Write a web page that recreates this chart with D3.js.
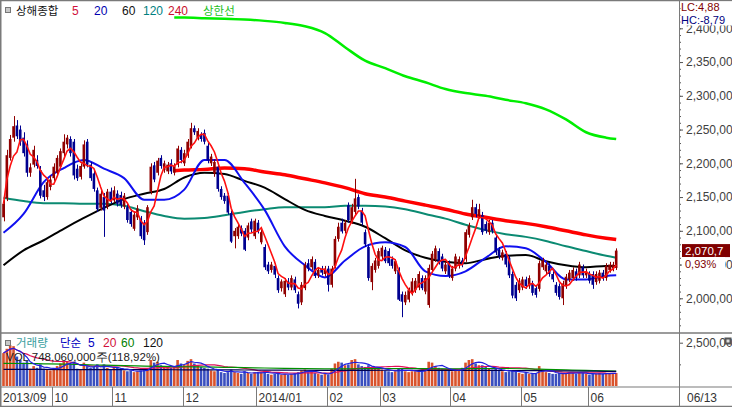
<!DOCTYPE html>
<html lang="ko">
<head>
<meta charset="UTF-8" />
<title>상해종합</title>
<script src="https://d3js.org/d3.v7.min.js"></script>
<style>
  body { margin: 0; background: #fff; }
  svg { display: block; }
  text { font-family: "Liberation Sans", sans-serif; font-size: 12px; }
  .kr { font-family: "Noto Sans CJK KR", sans-serif; font-size: 11.5px; }
  .axis text { fill: #404040; font-family: "Liberation Sans", sans-serif; font-size: 12px; }
  .axis line { stroke: #555; }
</style>
</head>
<body>
<script>
// ---- data: daily candles, 2013/09 .. 2014/06/13 (index = trading day) ----
const openVals = [
  2120,2148,2208,2238,2256,2250,2238,2228,2186,2198,2205,2190,2160,2150,2165,
  2178,2186,2195,2215,2228,2236,2232,2192,2180,2195,2232,2198,2185,2160,2134,2150,2136,2158,
  2145,2155,2153,2136,2135,2128,2103,2120,2118,2112,2098,2158,2197,2186,2208,2190,2188,2200,2186,2198,2220,
  2200,2212,2225,2252,2238,2242,2245,2226,2200,2185,2195,2162,2152,2152,2126,2092,2092,2104,2100,2090,2114,2092,
  2112,2083,2076,2050,2042,2048,2030,2015,2006,2025,2016,2028,2006,1994,2015,2052,2046,2054,2034,2044,2036,
  2044,2020,2048,2088,2112,2100,2138,2114,2128,2150,2130,2098,2076,2024,2042,2048,
  2062,2072,2070,2058,2040,2042,2006,1994,1998,2008,2012,2016,2030,2010,1990,2042,2058,2070,2062,2040,2052,
  2030,2044,2048,2056,2058,2094,2120,2135,2122,2123,2110,2098,2112,2090,2072,2060,2066,2060,2036,2020,2012,
  2016,2028,2018,2022,2015,2014,2046,2040,2048,2036,2020,2018,2000,2018,2028,2030,2040,2034,2046,2034,
  2036,2036,2024,2026,2038,2030,2042,2044,2045
];
const highVals = [
  2146,2220,2242,2270,2264,2256,2246,2234,2200,2226,2212,2196,2168,2176,2182,
  2200,2212,2222,2243,2242,2240,2236,2198,2200,2234,2236,2202,2190,2164,2160,2156,2162,2164,
  2166,2160,2158,2156,2140,2132,2128,2138,2122,2116,2138,2200,2202,2208,2212,2204,2202,2206,2200,2226,2224,
  2220,2236,2260,2256,2252,2246,2250,2230,2214,2206,2198,2166,2156,2156,2130,2104,2110,2108,2104,2112,2118,2118,
  2116,2102,2080,2054,2054,2052,2034,2028,2030,2030,2034,2032,2010,2024,2054,2058,2062,2058,2046,2048,2048,
  2048,2048,2092,2112,2118,2116,2142,2140,2177,2154,2134,2102,2080,2052,2060,2074,
  2078,2076,2074,2062,2058,2046,2010,2010,2016,2030,2030,2040,2034,2034,2050,2070,2078,2074,2066,2054,2056,
  2048,2066,2062,2060,2102,2112,2146,2140,2140,2128,2114,2116,2116,2094,2076,2072,2070,2064,2040,2024,2030,
  2032,2032,2034,2026,2018,2056,2060,2054,2052,2040,2024,2022,2026,2036,2042,2046,2044,2054,2050,2044,
  2040,2040,2040,2042,2042,2052,2054,2054,2074
];
const lowVals = [
  2114,2144,2204,2232,2236,2226,2210,2180,2180,2194,2192,2148,2144,2146,2160,
  2174,2182,2192,2210,2222,2210,2176,2174,2176,2192,2194,2174,2158,2128,2130,2091,2132,2140,
  2142,2136,2134,2132,2112,2106,2100,2116,2088,2079,2094,2154,2172,2182,2192,2186,2184,2184,2182,2194,2200,
  2196,2208,2222,2242,2234,2232,2228,2200,2196,2180,2158,2146,2140,2124,2082,2074,2088,2092,2070,2086,2098,2088,
  2096,2080,2042,2036,2038,2030,2008,2010,2002,2012,2012,2008,1985,1990,2012,2040,2042,2030,2030,2034,2032,
  2010,2016,2044,2084,2096,2096,2112,2110,2124,2132,2108,2076,2026,2012,2038,2044,
  2058,2052,2048,2044,2036,1996,1972,1990,1994,2004,2008,2012,2012,2006,1986,2038,2054,2050,2040,2036,2030,
  2026,2040,2044,2046,2054,2090,2116,2120,2118,2094,2096,2094,2096,2064,2058,2056,2046,2030,2000,1996,2008,
  2012,2014,2014,2004,2001,2010,2042,2036,2032,2024,2004,1998,1990,2014,2024,2026,2026,2030,2030,2030,
  2022,2014,2020,2022,2026,2026,2038,2040,2042
];
const closeVals = [
  2140,2212,2236,2255,2240,2232,2215,2186,2194,2220,2196,2152,2150,2172,2176,
  2195,2208,2218,2232,2238,2215,2182,2178,2196,2228,2198,2178,2162,2132,2155,2130,2158,2145,
  2160,2140,2138,2152,2116,2110,2124,2133,2092,2086,2135,2195,2176,2204,2196,2200,2198,2188,2196,2222,2205,
  2215,2232,2252,2246,2248,2236,2232,2204,2210,2202,2162,2150,2144,2127,2084,2100,2106,2096,2072,2108,2102,2115,
  2100,2098,2046,2040,2050,2035,2012,2025,2026,2016,2030,2012,1992,2020,2050,2044,2058,2033,2042,2038,2044,
  2020,2044,2088,2106,2099,2112,2116,2135,2148,2136,2112,2080,2030,2048,2056,2070,
  2075,2055,2052,2048,2055,1998,1995,2005,2012,2025,2026,2036,2015,2030,2045,2066,2074,2054,2044,2050,2034,
  2044,2062,2058,2050,2098,2108,2135,2125,2132,2098,2100,2112,2100,2068,2062,2068,2050,2034,2004,2000,2026,
  2028,2018,2030,2008,2005,2052,2056,2050,2036,2028,2008,2002,2022,2032,2038,2042,2030,2050,2034,2040,
  2026,2020,2036,2038,2030,2048,2050,2050,2070.7
];
// volume, million shares
const volumeVals = [
  1900,2150,2350,2300,1700,1500,1350,1450,1000,1150,1050,1250,1000,950,900,
  1000,1150,1300,1450,1400,1250,1400,1000,950,1350,1150,1050,1100,1250,1000,1250,1050,950,
  1100,1050,950,900,850,900,800,850,900,950,1000,1500,1350,1400,1200,1150,1100,1050,1100,1500,1300,
  1250,1450,1550,1300,1200,1100,1050,1000,900,850,950,800,750,800,950,800,750,700,850,750,700,800,
  750,800,850,700,650,700,750,650,700,650,700,750,800,900,950,800,850,750,700,650,700,
  650,1000,1300,1400,1350,1200,1250,1500,1550,1250,1150,1100,1200,1050,1000,1050,
  950,900,850,800,850,1000,1000,850,800,850,850,900,850,900,1400,1350,1150,1050,1000,950,900,
  850,900,950,1050,1350,1500,1550,1300,1200,1200,1100,1000,950,1000,900,850,800,850,900,850,750,
  700,750,700,750,700,1150,950,800,750,700,700,750,700,750,800,750,700,800,750,700,
  650,700,700,750,700,700,750,750,748
];

// moving-average lines at sample days
const sampleIdx = [0,6,12,18,24,30,36,42,48,54,60,66,72,78,84,90,96,102,108,114,120,126,132,138,144,150,156,162,168,174,180,183];
const ma20Vals = [2097,2125,2172,2193,2205,2192,2178,2146,2146,2161,2205,2205,2171,2131,2077,2049,2031,2056,2077,2083,2076,2040,2033,2040,2060,2077,2074,2054,2028,2028,2033,2034];
const ma60Vals = [2049,2071,2086,2103,2119,2134,2147,2155,2162,2179,2186,2184,2174,2164,2147,2131,2122,2115,2106,2089,2071,2060,2054,2052,2058,2063,2064,2055,2049,2046,2048,2048];
const ma120Vals = [2149,2144,2141,2141,2140,2140,2137,2129,2122,2118,2119,2123,2128,2132,2135,2135,2135,2137,2137,2136,2132,2125,2118,2109,2101,2095,2091,2085,2077,2070,2063,2060];
const longIdx = [51,54,60,66,72,78,84,90,96,102,108,114,120,126,132,138,144,150,156,162,168,174,180,183];
const ma240Vals = [2189,2190,2191,2193,2192,2187,2183,2177,2171,2164,2155,2150,2144,2138,2132,2125,2120,2115,2111,2106,2100,2094,2089,2087];
const upperVals = [2416,2416,2415,2414,2413,2411,2408,2403,2393,2372,2352,2341,2329,2320,2310,2304,2300,2294,2289,2280,2265,2246,2238,2236];
const volMa60Vals = [1310,1300,1280,1260,1230,1200,1180,1150,1130,1110,1100,1080,1060,1040,1020,1000,990,990,1000,1010,1010,1000,990,1000,1010,1010,990,960,930,900,870,860];
const volMa120Vals = [960,960,955,950,950,945,945,940,940,935,930,930,925,920,915,910,905,905,905,910,910,905,900,900,900,895,890,880,870,860,850,845];

const monthStart = [0,15,33,54,76,97,113,134,155,175];
const monthLabels = ["2013/09","10","11","12","2014/01","02","03","04","05","06"];
const priceTicks = d3.range(2000, 2401, 50);

// ---- layout ----
const W = 732, H = 407;
const axisX = 679, mainBottom = 333, volBottom = 387;

const svg = d3.select("body").append("svg").attr("width", W).attr("height", H);
svg.append("rect").attr("width", W).attr("height", H).attr("fill", "#fff");

const x = d3.scaleLinear().domain([0, 183]).range([3.5, 616.2]);
const y = d3.scaleLinear().domain([2000, 2400]).range([298.3, 28.3]);
const yv = d3.scaleLinear().domain([0, 2500]).range([386, 342.7]);

const defs = svg.append("defs");
defs.append("clipPath").attr("id", "clipMain")
  .append("rect").attr("x", 1).attr("y", 1).attr("width", axisX - 1).attr("height", mainBottom - 1);
defs.append("clipPath").attr("id", "clipVol")
  .append("rect").attr("x", 1).attr("y", mainBottom + 1).attr("width", axisX - 1).attr("height", volBottom - mainBottom - 1);
// the 2,400 label sits under the HC text, the 2,050 label under the percentage
defs.append("clipPath").attr("id", "clip2400")
  .append("rect").attr("x", 0).attr("y", 25 - y(2400)).attr("width", 60).attr("height", 20);
defs.append("clipPath").attr("id", "clip2050")
  .append("rect").attr("x", 725 - axisX).attr("y", -10).attr("width", 20).attr("height", 20);

const main = svg.append("g").attr("clip-path", "url(#clipMain)");
const vol = svg.append("g").attr("clip-path", "url(#clipVol)");

const days = closeVals.map((c, i) => ({ i, o: openVals[i], h: highVals[i], l: lowVals[i], c, v: volumeVals[i] }));
const rollMean = (vals, n) => vals.map((v, i) => d3.mean(vals.slice(Math.max(0, i - n + 1), i + 1)));
const ma5 = rollMean(closeVals, 5);

const UP = "#900000", DOWN = "#000090";

// long moving averages (behind candles)
const sampled = (idx, vals) => idx.map((i, k) => ({ i, v: vals[k] }));
const lineP = d3.line().x(d => x(d.i)).y(d => y(d.v)).curve(d3.curveMonotoneX);

[[sampleIdx, ma120Vals, "#0b8a72", 2],
 [sampleIdx, ma60Vals, "#000000", 2],
 [longIdx, ma240Vals, "#ff0000", 3.5],
 [longIdx, upperVals, "#00ee00", 2.5],
 [sampleIdx, ma20Vals, "#1010f0", 2]].forEach(([idx, vals, col, w]) => {
  main.append("path").datum(sampled(idx, vals))
    .attr("fill", "none").attr("stroke", col).attr("stroke-width", w).attr("d", lineP);
});

// candles
const cg = main.append("g");
cg.selectAll("line.wick").data(days).enter().append("line")
  .attr("class", "wick")
  .attr("x1", d => Math.round(x(d.i)) + 0.5).attr("x2", d => Math.round(x(d.i)) + 0.5)
  .attr("y1", d => y(d.h)).attr("y2", d => y(d.l))
  .attr("stroke", d => d.c >= d.o ? UP : DOWN).attr("stroke-width", 1);
cg.selectAll("rect.body").data(days).enter().append("rect")
  .attr("class", "body")
  .attr("x", d => x(d.i) - 1.3).attr("width", 2.6)
  .attr("y", d => y(Math.max(d.o, d.c)))
  .attr("height", d => Math.max(1, Math.abs(y(d.o) - y(d.c))))
  .attr("fill", d => d.c >= d.o ? UP : DOWN);

// 5-day average on top
main.append("path").datum(ma5.map((v, i) => ({ i, v })))
  .attr("fill", "none").attr("stroke", "#ff1010").attr("stroke-width", 1.6)
  .attr("d", d3.line().x(d => x(d.i)).y(d => y(d.v)));

// volume bars
vol.selectAll("rect.vbar").data(days).enter().append("rect")
  .attr("class", "vbar")
  .attr("x", d => x(d.i) - 1.3).attr("width", 2.6)
  .attr("y", d => yv(d.v)).attr("height", d => yv(0) - yv(d.v))
  .attr("fill", d => d.c >= d.o ? "#d9532c" : "#3a4fbf");

const lineV = d3.line().x(d => x(d.i)).y(d => yv(d.v));
[[rollMean(volumeVals, 20).map((v, i) => ({ i, v })), "#e0105a", d3.curveLinear],
 [sampled(sampleIdx, volMa60Vals), "#009000", d3.curveMonotoneX],
 [sampled(sampleIdx, volMa120Vals), "#000050", d3.curveMonotoneX],
 [rollMean(volumeVals, 5).map((v, i) => ({ i, v })), "#2020e0", d3.curveLinear]].forEach(([data, col, curve]) => {
  vol.append("path").datum(data).attr("fill", "none").attr("stroke", col).attr("stroke-width", 1.2)
    .attr("d", lineV.curve(curve));
});

// ---- axes ----
const axMinor = svg.append("g").attr("class", "axis").attr("transform", `translate(${axisX},0)`)
  .call(d3.axisRight(y).tickValues(d3.range(1960, 2440, 10)).tickSize(2).tickFormat(""));
const axMajor = svg.append("g").attr("class", "axis").attr("transform", `translate(${axisX},0)`)
  .call(d3.axisRight(y).tickValues(priceTicks).tickSize(4).tickPadding(3)
    .tickFormat(d => d3.format(",")(d) + ",00"));
axMajor.selectAll(".tick text")
  .attr("clip-path", d => d === 2400 ? "url(#clip2400)" : d === 2050 ? "url(#clip2050)" : null);
const axVol = svg.append("g").attr("class", "axis").attr("transform", `translate(${axisX},0)`)
  .call(d3.axisRight(yv).tickValues([2500]).tickSize(4).tickPadding(3).tickFormat(d => d3.format(",")(d) + ",00"));
const axVolMinor = svg.append("g").attr("class", "axis").attr("transform", `translate(${axisX},0)`)
  .call(d3.axisRight(yv).tickValues([1250]).tickSize(2).tickFormat(""));
[axMinor, axMajor, axVol, axVolMinor].forEach(g => g.select(".domain").remove());

// frame and panel separators
const frame = svg.append("g").attr("stroke", "#7a7a7a").attr("fill", "none");
frame.append("line").attr("x1", 0).attr("x2", W).attr("y1", mainBottom).attr("y2", mainBottom).attr("stroke-width", 1.5);
frame.append("line").attr("x1", 0).attr("x2", W).attr("y1", volBottom).attr("y2", volBottom).attr("stroke-width", 1.2);
frame.append("line").attr("x1", axisX + 0.5).attr("x2", axisX + 0.5).attr("y1", 0).attr("y2", H);
frame.append("rect").attr("x", 0.75).attr("y", 0.5).attr("width", W).attr("height", H - 1).attr("stroke-width", 1.5);

// date axis
const dates = svg.append("g");
monthStart.forEach((m, k) => {
  const lx = Math.round(x(m) - 1.7) + 0.5;
  if (k > 0) dates.append("line").attr("x1", lx).attr("x2", lx).attr("y1", volBottom).attr("y2", H)
    .attr("stroke", "#7a7a7a");
  dates.append("text").attr("x", k === 0 ? 3 : lx + 2).attr("y", 402).attr("fill", "#333").text(monthLabels[k]);
});
dates.append("text").attr("x", axisX + 8).attr("y", 402).attr("fill", "#333").text("06/13");

// last price tag
const last = days[days.length - 1];
const ty = y(last.c);
svg.append("rect").attr("x", 682).attr("y", ty - 6.5).attr("width", 48).attr("height", 13).attr("fill", "#800000");
svg.append("text").attr("x", 685).attr("y", ty + 4).attr("fill", "#fff").style("font-size", "11.5px").text("2,070,7");
svg.append("rect").attr("x", 682).attr("y", ty + 6.5).attr("width", 43).attr("height", 12.5).attr("fill", "#fff");
svg.append("text").attr("x", 685).attr("y", ty + 17.5).attr("fill", "#800000").style("font-size", "11px").text("0,93%");

// LC / HC box
svg.append("rect").attr("x", 680.5).attr("y", 1.5).attr("width", 52).attr("height", 23.5).attr("fill", "#fff");
svg.append("text").attr("x", 681).attr("y", 11).attr("fill", "#800000").style("font-size", "11px").text("LC:4,88");
svg.append("text").attr("x", 681).attr("y", 23.5).attr("fill", "#000080").style("font-size", "11px").text("HC:-8,79");

// small icon by the volume scale
svg.append("rect").attr("x", 724.5).attr("y", 337.5).attr("width", 7).attr("height", 7).attr("fill", "#555");
svg.append("rect").attr("x", 726.5).attr("y", 339.5).attr("width", 3).attr("height", 3).attr("fill", "#ddd");

// ---- legends ----
function legendIcon(yy) {
  svg.append("rect").attr("x", 5.5).attr("y", yy).attr("width", 5).attr("height", 5)
    .attr("fill", "#c8c8c8").attr("stroke", "#777");
}
legendIcon(7.5);
const topLegend = [
  ["상해종합", 16, "#111", true], ["5", 72, "#d0103a", false], ["20", 94, "#0000b0", false],
  ["60", 122, "#111", false], ["120", 143, "#008080", false], ["240", 168, "#c8102e", false],
  ["상한선", 203, "#22c022", true]
];
topLegend.forEach(([t, lx, col, kr]) => {
  svg.append("text").attr("class", kr ? "kr" : null).attr("x", lx).attr("y", 15).attr("fill", col).text(t);
});

legendIcon(340.5);
const volLegend = [
  ["거래량", 16, "#3a9e9e", true], ["단순", 60, "#0000c0", true], ["5", 88, "#0000c0", false],
  ["20", 103, "#d0103a", false], ["60", 121, "#008000", false], ["120", 143, "#111", false]
];
volLegend.forEach(([t, lx, col, kr]) => {
  svg.append("text").attr("class", kr ? "kr" : null).attr("x", lx).attr("y", 347).attr("fill", col).text(t);
});
svg.append("text").attr("x", 6).attr("y", 361).attr("fill", "#222").style("font-size", "11.5px")
  .text("VOL 748,060,000주(118,92%)");
</script>
</body>
</html>
